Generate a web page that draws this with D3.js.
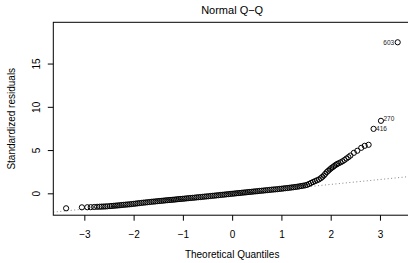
<!DOCTYPE html>
<html>
<head>
<meta charset="utf-8">
<script src="https://cdn.jsdelivr.net/npm/d3@7"></script>
<style>
  body { margin: 0; background: #fff; }
  svg { display: block; font-family: "Liberation Sans", Arial, sans-serif; }
</style>
</head>
<body>
<svg width="408" height="263"></svg>
<script>
// theoretical quantiles (x) and standardized residuals (y)
var qx = [-3.37, -3.05, -2.94, -2.87, -2.80, -2.74, -2.69, -2.65, -2.61, -2.57, -2.53,
  -2.48, -2.44, -2.40, -2.36, -2.32, -2.28, -2.24, -2.20, -2.16, -2.12, -2.08, -2.04,
  -2.00, -1.96, -1.92, -1.88, -1.84, -1.80, -1.76, -1.72, -1.68, -1.64, -1.60, -1.56,
  -1.52, -1.48, -1.44, -1.40, -1.36, -1.32, -1.28, -1.24, -1.20, -1.16, -1.12, -1.08,
  -1.04, -1.00, -0.96, -0.92, -0.88, -0.84, -0.80, -0.76, -0.72, -0.68, -0.64, -0.60,
  -0.56, -0.52, -0.48, -0.44, -0.40, -0.36, -0.32, -0.28, -0.24, -0.20, -0.16, -0.12,
  -0.08, -0.04, 0.00, 0.04, 0.08, 0.12, 0.16, 0.20, 0.24, 0.28, 0.32, 0.36, 0.40, 0.44,
  0.48, 0.52, 0.56, 0.60, 0.64, 0.68, 0.72, 0.76, 0.80, 0.84, 0.88, 0.92, 0.96, 1.00,
  1.04, 1.08, 1.12, 1.16, 1.20, 1.24, 1.28, 1.32, 1.36, 1.40, 1.44, 1.48, 1.52,
  1.56, 1.60, 1.64, 1.68, 1.72, 1.76, 1.80, 1.83, 1.86, 1.89, 1.92, 1.95, 1.98, 2.01,
  2.04, 2.07, 2.10, 2.13, 2.16, 2.20, 2.24, 2.28, 2.32, 2.36, 2.40, 2.47, 2.54, 2.62,
  2.69, 2.77, 2.87, 3.02, 3.36];
var res = [-1.73, -1.62, -1.61, -1.60, -1.58, -1.56, -1.55, -1.54, -1.53, -1.52, -1.50,
  -1.48, -1.46, -1.44, -1.42, -1.40, -1.38, -1.35, -1.33, -1.31, -1.29, -1.27, -1.24,
  -1.22, -1.19, -1.16, -1.13, -1.11, -1.08, -1.06, -1.03, -1.01, -0.98, -0.96, -0.94,
  -0.91, -0.89, -0.87, -0.85, -0.82, -0.80, -0.78, -0.76, -0.74, -0.72, -0.69, -0.67,
  -0.65, -0.63, -0.61, -0.58, -0.56, -0.54, -0.52, -0.50, -0.47, -0.45, -0.43, -0.41,
  -0.38, -0.36, -0.34, -0.31, -0.29, -0.27, -0.24, -0.22, -0.19, -0.17, -0.15, -0.12,
  -0.10, -0.07, -0.05, -0.03, 0.00, 0.02, 0.04, 0.07, 0.09, 0.11, 0.14, 0.16, 0.18, 0.21,
  0.23, 0.25, 0.28, 0.30, 0.32, 0.35, 0.37, 0.39, 0.42, 0.44, 0.46, 0.48, 0.51, 0.53,
  0.56, 0.59, 0.61, 0.64, 0.67, 0.70, 0.73, 0.76, 0.80, 0.84, 0.88, 0.92, 0.98,
  1.08, 1.20, 1.30, 1.40, 1.50, 1.60, 1.75, 1.90, 2.05, 2.25, 2.45, 2.60, 2.75, 2.90,
  3.02, 3.15, 3.28, 3.38, 3.47, 3.58, 3.70, 3.85, 4.02, 4.18, 4.36, 4.68, 4.92, 5.26,
  5.49, 5.61, 7.45, 8.38, 17.46];

// labelled observations
var idLabels = ["603", "270", "416"];
var idX = [3.36, 3.02, 2.87];
var idY = [17.46, 8.38, 7.45];

// qq reference line (intercept, slope)
var qqLine = [-0.11, 0.569];

var xTicks = [-3, -2, -1, 0, 1, 2, 3];
var yTicks = [0, 5, 10, 15];

var svg = d3.select("svg");
var plot = {left: 53.3, right: 411, top: 22.3, bottom: 215.2};

var x = d3.scaleLinear().domain([-3.63, 3.63]).range([plot.left, plot.right]);
var y = d3.scaleLinear().domain([-2.53, 19.77]).range([plot.bottom, plot.top]);

svg.append("defs").append("clipPath").attr("id", "clip")
  .append("rect")
  .attr("x", plot.left).attr("y", plot.top)
  .attr("width", plot.right - plot.left).attr("height", plot.bottom - plot.top);

// dotted qq line
svg.append("line")
  .attr("clip-path", "url(#clip)")
  .attr("x1", x(-3.63)).attr("y1", y(qqLine[0] + qqLine[1] * -3.63))
  .attr("x2", x(3.63)).attr("y2", y(qqLine[0] + qqLine[1] * 3.63))
  .attr("stroke", "#777")
  .attr("stroke-width", 0.9)
  .attr("stroke-dasharray", "1,2.5");

// points
svg.append("g")
  .selectAll("circle")
  .data(qx)
  .enter().append("circle")
  .attr("cx", function(d) { return x(d); })
  .attr("cy", function(d, i) { return y(res[i]); })
  .attr("r", 2.6)
  .attr("fill", "none")
  .attr("stroke", "#000")
  .attr("stroke-width", 1);

// id labels: 603 on the left, the others on the right
svg.append("g")
  .selectAll("text")
  .data(idLabels)
  .enter().append("text")
  .attr("x", function(d, i) { return i == 0 ? x(idX[i]) - 3.5 : x(idX[i]) + 2.5; })
  .attr("y", function(d, i) { return y(idY[i]) + (i == 1 ? 0.5 : 2.3); })
  .attr("text-anchor", function(d, i) { return i == 0 ? "end" : "start"; })
  .style("font-size", "6.5px")
  .attr("fill", "#222")
  .text(function(d) { return d; });

// box
svg.append("rect")
  .attr("x", plot.left).attr("y", plot.top)
  .attr("width", plot.right - plot.left).attr("height", plot.bottom - plot.top)
  .attr("fill", "none")
  .attr("stroke", "#000")
  .attr("stroke-width", 1);

// axes
var xAxis = svg.append("g")
  .attr("transform", "translate(0," + plot.bottom + ")")
  .call(d3.axisBottom(x).tickValues(xTicks).tickSize(5.5).tickPadding(10)
    .tickFormat(function(d) { return d < 0 ? "\u2212" + Math.abs(d) : d; }));
xAxis.select(".domain").remove();
xAxis.selectAll("text").style("font-size", "10px").attr("fill", "#000");

var yAxis = svg.append("g")
  .attr("transform", "translate(" + plot.left + ",0)")
  .call(d3.axisLeft(y).tickValues(yTicks).tickSize(5.5));
yAxis.select(".domain").remove();
yAxis.selectAll("text")
  .attr("x", 0).attr("dy", null)
  .attr("transform", "translate(-17,0) rotate(-90)")
  .attr("text-anchor", "middle")
  .attr("dominant-baseline", "central")
  .style("font-size", "10px")
  .attr("fill", "#000");

// titles
svg.append("text")
  .attr("x", (plot.left + plot.right) / 2).attr("y", 14)
  .attr("text-anchor", "middle")
  .style("font-size", "11px")
  .text("Normal Q\u2212Q");

svg.append("text")
  .attr("x", (plot.left + plot.right) / 2).attr("y", 258)
  .attr("text-anchor", "middle")
  .style("font-size", "10px")
  .text("Theoretical Quantiles");

svg.append("text")
  .attr("transform", "translate(15," + (plot.top + plot.bottom) / 2 + ") rotate(-90)")
  .attr("text-anchor", "middle")
  .style("font-size", "10px")
  .text("Standardized residuals");
</script>
</body>
</html>
